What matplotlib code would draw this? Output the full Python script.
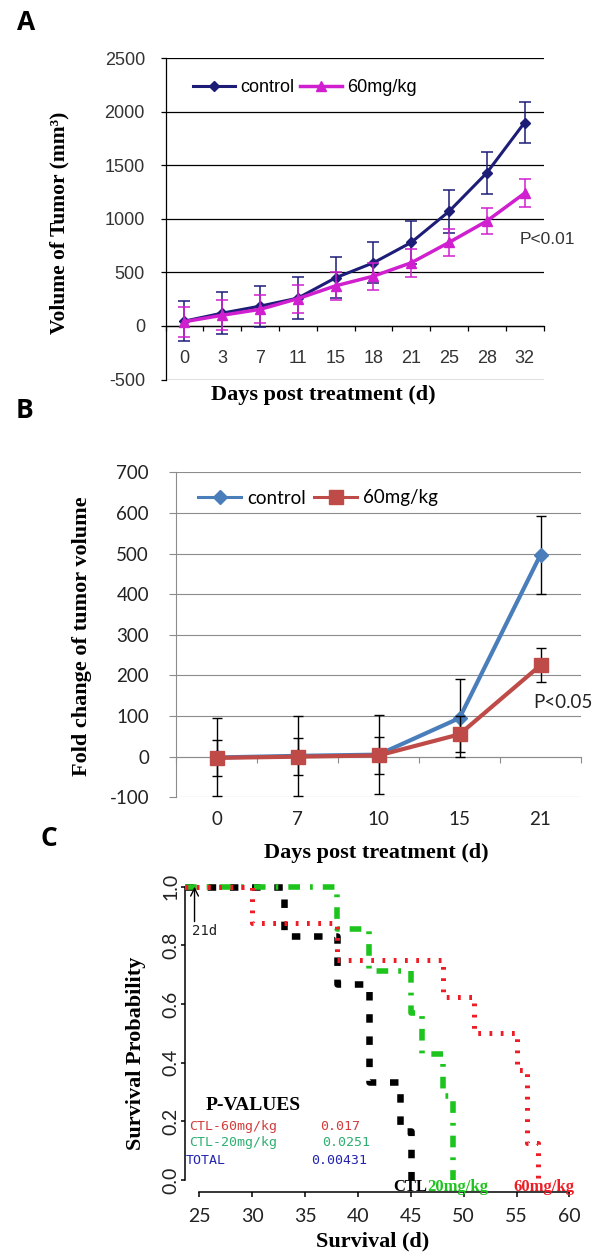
import matplotlib
matplotlib.use('Agg')
import matplotlib.pyplot as plt
from matplotlib.lines import Line2D
import numpy as np

plt.rcParams['axes.unicode_minus'] = False

W, H = 598, 1253
DPI = 100

# ---------------- data ----------------
# Panel A
a_days = ['0', '3', '7', '11', '15', '18', '21', '25', '28', '32']
a_ctrl = [45, 120, 185, 260, 450, 590, 780, 1070, 1430, 1900]
a_ctrl_err = [190, 195, 190, 195, 190, 190, 200, 200, 195, 195]
a_60 = [40, 100, 155, 255, 375, 465, 590, 780, 980, 1240]
a_60_err = [140, 140, 130, 130, 130, 125, 133, 130, 120, 128]
a_yticks = [-500, 0, 500, 1000, 1500, 2000, 2500]

# Panel B
b_days = ['0', '7', '10', '15', '21']
b_ctrl = [-2, 2, 5, 95, 497]
b_ctrl_err = [96, 98, 97, 97, 96]
b_60 = [-3, 0, 3, 55, 225]
b_60_err = [45, 45, 45, 44, 42]
b_yticks = [-100, 0, 100, 200, 300, 400, 500, 600, 700]

# Panel C (Kaplan-Meier steps)
c_ctl_t = [23.6, 33, 38, 41, 44, 45]
c_ctl_s = [1.0, 0.833, 0.667, 0.333, 0.167, 0.0]
c_20_t = [23.6, 38, 41, 45, 46, 48, 49]
c_20_s = [1.0, 0.857, 0.714, 0.571, 0.429, 0.286, 0.0]
c_60_t = [23.6, 30, 38, 48, 51, 55, 56, 57]
c_60_s = [1.0, 0.875, 0.75, 0.625, 0.5, 0.375, 0.125, 0.0]
c_xticks = [25, 30, 35, 40, 45, 50, 55, 60]
c_yticks = [0.0, 0.2, 0.4, 0.6, 0.8, 1.0]
pval_names = ['CTL-60mg/kg', 'CTL-20mg/kg', 'TOTAL']
pval_values = ['0.017', '0.0251', '0.00431']

# ---------------- helpers ----------------
fig = plt.figure(figsize=(W / DPI, H / DPI), dpi=DPI)


def px_axes(x0, y0, x1, y1):
    return fig.add_axes([x0 / W, 1 - y1 / H, (x1 - x0) / W, (y1 - y0) / H])


def ftext(x, y, s, **kw):
    kw.setdefault('ha', 'center')
    kw.setdefault('va', 'center')
    return fig.text(x / W, 1 - y / H, s, **kw)


SERIF = 'Liberation Serif'
ARIAL = 'Liberation Sans'
CAL = 'Lato'

# ---------------- Panel A ----------------
navy = '#1d1d78'
mag = '#cf1fcf'
axA = px_axes(165.5, 58.3, 543.5, 379.5)
xa = np.arange(len(a_days))
axA.set_xlim(-0.5, len(a_days) - 0.5)
axA.set_ylim(-500, 2500)
axA.set_yticks(a_yticks)
axA.yaxis.grid(True, color='black', lw=0.9)
axA.set_axisbelow(True)
for s in ['top', 'right']:
    axA.spines[s].set_visible(False)
axA.spines['bottom'].set_position(('data', 0))
axA.spines['left'].set_linewidth(0.9)
axA.spines['bottom'].set_linewidth(0.9)
axA.set_xticks(xa, a_days)
axA.set_xticks(np.arange(len(a_days) + 1) - 0.5, minor=True)
axA.tick_params(axis='x', which='major', length=0, pad=17, labelsize=13, labelcolor='#333333')
axA.tick_params(axis='x', which='minor', length=3.6, width=0.9, direction='out')
axA.tick_params(axis='y', length=3.6, width=0.9, pad=11.2, labelsize=13, labelcolor='#333333')
for lab in axA.get_xticklabels() + axA.get_yticklabels():
    lab.set_family(ARIAL)

axA.errorbar(xa, a_ctrl, yerr=a_ctrl_err, color=navy, lw=2.2, marker='D', ms=5.5,
             ecolor=navy, elinewidth=1.1, capsize=4.2, capthick=1.1, zorder=3)
axA.errorbar(xa, a_60, yerr=a_60_err, color=mag, lw=2.5, marker='^', ms=7,
             ecolor=mag, elinewidth=1.1, capsize=4.2, capthick=1.1, zorder=4)
hA = [Line2D([], [], color=navy, lw=2.2, marker='D', ms=5.5),
      Line2D([], [], color=mag, lw=2.5, marker='^', ms=7)]
axA.legend(hA, ['control', '60mg/kg'], ncol=2, frameon=False, loc='center left',
           bbox_to_anchor=(193 / W, 1 - 88 / H), bbox_transform=fig.transFigure,
           handlelength=2.33, handletextpad=0.28, columnspacing=0.33, borderpad=0,
           borderaxespad=0, prop={'family': ARIAL, 'size': 13})
ftext(520, 240, 'P<0.01', ha='left', family=ARIAL, fontsize=12.5, color='#333333')
ftext(59.5, 223, 'Volume of Tumor (mm³)', rotation=90, family=SERIF, weight='bold', fontsize=15.5)
ftext(323, 395, 'Days post treatment (d)', family=SERIF, weight='bold', fontsize=16)
ftext(26.5, 23, 'A', family='Open Sans', weight='bold', fontsize=19)

# ---------------- Panel B ----------------
blue = '#4a7ebb'
red = '#be4b48'
gray = '#8c8c8c'
axB = px_axes(176, 472.3, 581, 797.3)
xb = np.arange(len(b_days))
axB.set_xlim(-0.5, len(b_days) - 0.5)
axB.set_ylim(-100, 700)
axB.set_yticks(b_yticks)
axB.yaxis.grid(True, color=gray, lw=0.8)
axB.set_axisbelow(True)
for s in ['top', 'right']:
    axB.spines[s].set_visible(False)
axB.spines['bottom'].set_position(('data', 0))
for s in ['left', 'bottom']:
    axB.spines[s].set_color(gray)
    axB.spines[s].set_linewidth(0.8)
axB.set_xticks(xb, b_days)
axB.set_xticks(np.arange(len(b_days) + 1) - 0.5, minor=True)
axB.tick_params(axis='x', which='major', length=0, pad=39, labelsize=13.5, labelcolor='#222222')
axB.tick_params(axis='x', which='minor', length=4.3, width=0.8, color=gray, direction='out')
axB.tick_params(axis='y', length=5, width=0.8, color=gray, pad=14.4, labelsize=13.5, labelcolor='#222222')
for lab in axB.get_xticklabels() + axB.get_yticklabels():
    lab.set_family(CAL)

axB.errorbar(xb, b_ctrl, yerr=b_ctrl_err, color=blue, lw=3, marker='D', ms=7,
             ecolor='black', elinewidth=1, capsize=3.6, capthick=1, zorder=3)
axB.errorbar(xb, b_60, yerr=b_60_err, color=red, lw=3, marker='s', ms=10,
             ecolor='black', elinewidth=1, capsize=3.6, capthick=1, zorder=4)
hB = [Line2D([], [], color=blue, lw=2.2, marker='D', ms=7),
      Line2D([], [], color=red, lw=2.2, marker='s', ms=10)]
axB.legend(hB, ['control', '60mg/kg'], ncol=2, frameon=False, loc='center left',
           bbox_to_anchor=(198 / W, 1 - 498 / H), bbox_transform=fig.transFigure,
           handlelength=2.3, handletextpad=0.3, columnspacing=0.45, borderpad=0,
           borderaxespad=0, prop={'family': CAL, 'size': 13.5})
ftext(533, 703, 'P<0.05', ha='left', family=CAL, fontsize=13.5, color='#222222')
ftext(82, 636, 'Fold change of tumor volume', rotation=90, family=SERIF, weight='bold', fontsize=16)
ftext(376, 853, 'Days post treatment (d)', family=SERIF, weight='bold', fontsize=16)
ftext(24, 410, 'B', family='Open Sans', weight='bold', fontsize=19)

# ---------------- Panel C ----------------
cgreen = '#1ec41e'
cred = '#ee1c24'
axC = px_axes(184.7, 875, 584.3, 1191.7)
axC.set_xlim(23.6, 61.4)
axC.set_ylim(-0.04, 1.04)
for s in ['top', 'right']:
    axC.spines[s].set_visible(False)
axC.spines['left'].set_bounds(0, 1)
axC.spines['bottom'].set_bounds(25, 60)
for s in ['left', 'bottom']:
    axC.spines[s].set_linewidth(1.1)
axC.set_xticks(c_xticks, [str(v) for v in c_xticks])
axC.set_yticks(c_yticks, ['%.1f' % v for v in c_yticks])
axC.tick_params(axis='x', length=3.6, width=1.1, pad=8, labelsize=14, labelcolor='#222222')
axC.tick_params(axis='y', length=3, width=1.1, pad=0.5, labelsize=14, labelcolor='#222222',
                labelrotation=90)
for lab in axC.get_xticklabels() + axC.get_yticklabels():
    lab.set_family(CAL)
for lab in axC.get_yticklabels():
    lab.set_va('center')

axC.step(c_ctl_t, c_ctl_s, where='post', color='black', lw=4.7, dashes=(1.3, 2.1),
         dash_capstyle='butt', zorder=3)
axC.step(c_20_t, c_20_s, where='post', color=cgreen, lw=4.0, dashes=(2.1, 1.8, 0.5, 1.8),
         dash_capstyle='butt', zorder=4)
axC.step(c_60_t, c_60_s, where='post', color=cred, lw=3.6, dashes=(0.55, 1.7),
         dash_capstyle='butt', zorder=5)

axC.annotate('', xy=(24.53, 1.0), xytext=(24.53, 0.881),
             arrowprops=dict(arrowstyle='->', color='black', lw=1.0, mutation_scale=14,
                             shrinkA=0, shrinkB=0), zorder=6)
axC.text(24.3, 0.85, '21d', ha='left', va='center', family='DejaVu Sans Mono', fontsize=10,
         color='#222222')

axC.text(25.61, 0.253, 'P-VALUES', ha='left', va='center', family=SERIF, weight='bold', fontsize=14)
pcols = ['#d23c3c', '#2fae72', '#2424b0']
p_y = [0.182, 0.127, 0.068]
p_nx = [23.99, 24.0, 23.72]
p_vx = [36.4, 36.59, 35.55]
for name, val, col, yy, nx, vx in zip(pval_names, pval_values, pcols, p_y, p_nx, p_vx):
    axC.text(nx, yy, name, ha='left', va='center', family='DejaVu Sans Mono', fontsize=9.5,
             color=col, clip_on=False)
    axC.text(vx, yy, val, ha='left', va='center', family='DejaVu Sans Mono', fontsize=9.5,
             color=col, clip_on=False)

grp_labels = ['CTL', '20mg/kg', '60mg/kg']
grp_cols = ['black', cgreen, cred]
grp_x = [43.31, 46.52, 54.66]
for lab, col, gx in zip(grp_labels, grp_cols, grp_x):
    axC.text(gx, -0.023, lab, ha='left', va='center', family=SERIF, weight='bold', fontsize=12,
             color=col, clip_on=False)

ftext(135.5, 1053, 'Survival Probability', rotation=90, family=SERIF, weight='bold', fontsize=16)
ftext(373, 1241, 'Survival (d)', family=SERIF, weight='bold', fontsize=16)
ftext(49, 839, 'C', family='Open Sans', weight='bold', fontsize=19)

fig.savefig('out.png', dpi=DPI)
